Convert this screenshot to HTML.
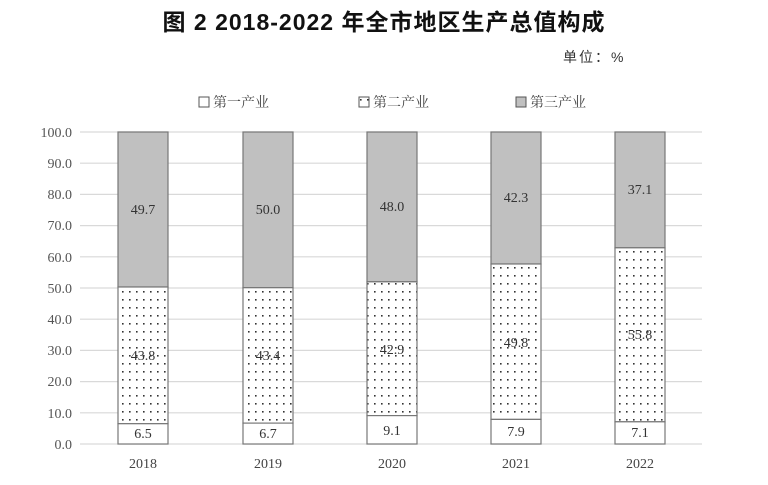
<!DOCTYPE html>
<html><head><meta charset="utf-8"><style>
body{margin:0;background:#fff;width:768px;height:480px;overflow:hidden}
svg text{font-family:"Liberation Serif","Noto Serif CJK SC",serif}
</style></head><body>
<svg width="768" height="480" xmlns="http://www.w3.org/2000/svg">
<defs><pattern id="d" width="7" height="8" patternUnits="userSpaceOnUse"><rect width="7" height="8" fill="#fff"/><rect x="3" y="3" width="1.6" height="1.6" fill="#333"/></pattern></defs>
<text x="384" y="30" text-anchor="middle" font-size="23" font-weight="bold" letter-spacing="1" style="font-family:'Liberation Sans','Noto Sans CJK SC',sans-serif" fill="#111">图 2   2018-2022 年全市地区生产总值构成</text>
<text x="563" y="62" font-size="14" letter-spacing="2" style="font-family:'Liberation Sans','Noto Sans CJK SC',sans-serif" fill="#333">单位：%</text>
<g font-size="14" fill="#444">
<rect x="199" y="97" width="10" height="10" fill="#fff" stroke="#555"/><text x="213" y="107">第一产业</text>
<rect x="359" y="97" width="10" height="10" fill="url(#d)" stroke="#555"/><text x="373" y="107">第二产业</text>
<rect x="516" y="97" width="10" height="10" fill="#c0c0c0" stroke="#555"/><text x="530" y="107">第三产业</text>
</g>
<g stroke="#d9d9d9" stroke-width="1.2">
<line x1="80" x2="702" y1="132" y2="132"/><line x1="80" x2="702" y1="163.2" y2="163.2"/><line x1="80" x2="702" y1="194.4" y2="194.4"/><line x1="80" x2="702" y1="225.6" y2="225.6"/><line x1="80" x2="702" y1="256.8" y2="256.8"/><line x1="80" x2="702" y1="288" y2="288"/><line x1="80" x2="702" y1="319.2" y2="319.2"/><line x1="80" x2="702" y1="350.4" y2="350.4"/><line x1="80" x2="702" y1="381.6" y2="381.6"/><line x1="80" x2="702" y1="412.8" y2="412.8"/><line x1="80" x2="702" y1="444" y2="444"/>
</g>
<g font-size="14" fill="#555" text-anchor="end">
<text x="72" y="137">100.0</text><text x="72" y="168">90.0</text><text x="72" y="199">80.0</text><text x="72" y="230">70.0</text><text x="72" y="262">60.0</text><text x="72" y="293">50.0</text><text x="72" y="324">40.0</text><text x="72" y="355">30.0</text><text x="72" y="386">20.0</text><text x="72" y="418">10.0</text><text x="72" y="449">0.0</text>
</g>
<g stroke="#777" stroke-width="1.2">
<rect x="118" y="132" width="50" height="155" fill="#c0c0c0"/><rect x="118" y="287" width="50" height="136.7" fill="url(#d)"/><rect x="118" y="423.7" width="50" height="20.3" fill="#fff"/>
<rect x="243" y="132" width="50" height="155.7" fill="#c0c0c0"/><rect x="243" y="287.7" width="50" height="135.4" fill="url(#d)"/><rect x="243" y="423.1" width="50" height="20.9" fill="#fff"/>
<rect x="367" y="132" width="50" height="149.8" fill="#c0c0c0"/><rect x="367" y="281.8" width="50" height="133.8" fill="url(#d)"/><rect x="367" y="415.6" width="50" height="28.4" fill="#fff"/>
<rect x="491" y="132" width="50" height="132" fill="#c0c0c0"/><rect x="491" y="264" width="50" height="155.4" fill="url(#d)"/><rect x="491" y="419.4" width="50" height="24.6" fill="#fff"/>
<rect x="615" y="132" width="50" height="115.8" fill="#c0c0c0"/><rect x="615" y="247.8" width="50" height="174" fill="url(#d)"/><rect x="615" y="421.8" width="50" height="22.2" fill="#fff"/>
</g>
<g font-size="14" fill="#333" text-anchor="middle">
<text x="143" y="214">49.7</text><text x="143" y="360">43.8</text><text x="143" y="438">6.5</text>
<text x="268" y="214">50.0</text><text x="268" y="360">43.4</text><text x="268" y="438">6.7</text>
<text x="392" y="211">48.0</text><text x="392" y="354">42.9</text><text x="392" y="435">9.1</text>
<text x="516" y="202">42.3</text><text x="516" y="347">49.8</text><text x="516" y="436">7.9</text>
<text x="640" y="194">37.1</text><text x="640" y="339">55.8</text><text x="640" y="437">7.1</text>
</g>
<g font-size="14" fill="#444" text-anchor="middle">
<text x="143" y="468">2018</text><text x="268" y="468">2019</text><text x="392" y="468">2020</text><text x="516" y="468">2021</text><text x="640" y="468">2022</text>
</g>
</svg>
</body></html>
